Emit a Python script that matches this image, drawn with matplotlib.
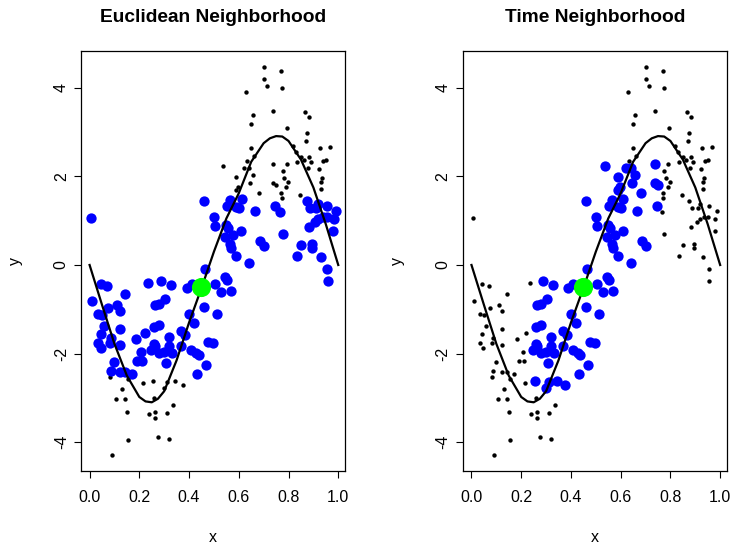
import numpy as np
import matplotlib
matplotlib.use("Agg")
import matplotlib.pyplot as plt

# query point (green)
x0, y0 = 0.45, -0.5

# points blue in both panels
both_x = [0.459, 0.499, 0.506, 0.464, 0.506, 0.288, 0.329, 0.390, 0.410, 0.304,
          0.265, 0.278, 0.459, 0.400, 0.420, 0.261, 0.278, 0.318, 0.368, 0.384,
          0.260, 0.475, 0.495, 0.512, 0.247, 0.265, 0.281, 0.298, 0.321, 0.332,
          0.368, 0.408, 0.428, 0.438, 0.468, 0.432, 0.309,
          0.564, 0.611, 0.553, 0.590, 0.601, 0.665, 0.745,
          0.550, 0.557, 0.544, 0.577, 0.608, 0.564, 0.568, 0.590, 0.685, 0.701, 0.640,
          0.546, 0.554, 0.528, 0.568]
both_y = [1.44, 1.08, 0.88, -0.09, -0.44, -0.36, -0.45, -0.53, -0.42, -0.77,
          -0.90, -0.87, -0.94, -1.11, -1.30, -1.39, -1.36, -1.63, -1.49, -1.58,
          -1.79, -1.73, -1.77, -1.11, -1.92, -1.84, -1.99, -1.96, -1.84, -1.98,
          -1.84, -1.92, -1.98, -2.03, -2.26, -2.45, -2.22,
          1.47, 1.48, 1.34, 1.32, 1.28, 1.22, 1.33,
          0.90, 0.83, 0.64, 0.68, 0.77, 0.47, 0.39, 0.21, 0.54, 0.43, 0.05,
          -0.26, -0.34, -0.62, -0.58]

# points blue only in the Euclidean neighborhood
euc_x = [0.006, 0.044, 0.071, 0.235, 0.142, 0.010, 0.111, 0.076, 0.123, 0.033,
         0.049, 0.057, 0.122, 0.044, 0.221, 0.185, 0.087, 0.033, 0.082, 0.123,
         0.047, 0.207, 0.190, 0.211, 0.100, 0.087, 0.122, 0.141, 0.170,
         0.765, 0.776,
         0.873, 0.888, 0.910, 0.917, 0.954, 0.989, 0.937, 0.953, 0.981, 0.917,
         0.906, 0.881, 0.980, 0.850, 0.894, 0.894, 0.834, 0.930, 0.954, 0.957]
euc_y = [1.05, -0.43, -0.47, -0.41, -0.66, -0.82, -0.90, -0.96, -1.04, -1.11,
         -1.12, -1.38, -1.44, -1.56, -1.54, -1.68, -1.65, -1.77, -1.77, -1.80,
         -1.88, -1.96, -2.16, -2.16, -2.20, -2.39, -2.42, -2.42, -2.46,
         1.19, 0.69,
         1.45, 1.29, 1.29, 1.38, 1.33, 1.22, 1.09, 1.09, 1.03, 1.03,
         0.98, 0.85, 0.77, 0.44, 0.47, 0.39, 0.21, 0.19, -0.09, -0.36]

# points blue only in the time neighborhood
time_x = [0.254, 0.298, 0.310, 0.344, 0.375,
          0.535, 0.622, 0.643, 0.656, 0.589, 0.736, 0.647, 0.736, 0.749, 0.683,
          0.596, 0.589]
time_y = [-2.62, -2.78, -2.65, -2.63, -2.72,
          2.24, 2.18, 2.18, 2.03, 1.99, 2.28, 1.84, 1.86, 1.81, 1.62,
          1.77, 1.69]

# points outside both neighborhoods
rest_x = [0.084, 0.154, 0.215, 0.131, 0.107, 0.141, 0.151, 0.154, 0.090, 0.238,
          0.261, 0.264, 0.264, 0.312, 0.335, 0.274, 0.320,
          0.772, 0.847,
          0.703, 0.770, 0.703, 0.712, 0.774, 0.629, 0.736, 0.656, 0.649, 0.866,
          0.884, 0.794, 0.873, 0.870, 0.649, 0.820, 0.830, 0.926, 0.966, 0.660,
          0.632, 0.792, 0.833, 0.850, 0.861, 0.884, 0.890, 0.877, 0.940, 0.950,
          0.924, 0.776, 0.783, 0.799, 0.791, 0.770, 0.934, 0.930, 0.930]
rest_y = [-2.54, -2.57, -2.67, -2.79, -3.02, -3.02, -3.32, -3.95, -4.30, -3.36,
          -3.01, -3.33, -3.46, -3.34, -3.15, -3.88, -3.93,
          1.52, 1.58,
          4.48, 4.38, 4.21, 4.03, 4.00, 3.90, 3.48, 3.39, 3.18, 3.45,
          3.33, 3.09, 2.99, 2.80, 2.63, 2.69, 2.54, 2.65, 2.67, 2.46,
          2.35, 2.28, 2.33, 2.43, 2.37, 2.44, 2.33, 2.18, 2.35, 2.37,
          2.16, 2.13, 1.97, 1.87, 1.77, 1.62, 1.96, 1.88, 1.71]

# true curve
curve_x = [0.00, 0.05, 0.10, 0.15, 0.20, 0.225, 0.25, 0.275, 0.30, 0.35, 0.40,
           0.45, 0.50, 0.55, 0.60, 0.65, 0.70, 0.725, 0.75, 0.775, 0.80, 0.85,
           0.90, 0.95, 1.00]
curve_y = [0.00, -0.90, -1.78, -2.50, -2.98, -3.08, -3.10, -3.02, -2.85, -2.15,
           -1.30, -0.52, 0.30, 1.05, 1.62, 2.33, 2.75, 2.86, 2.91, 2.90, 2.80,
           2.38, 1.75, 0.92, 0.00]

plt.rcParams['font.family'] = ['Liberation Sans', 'DejaVu Sans']

all_x = np.array(both_x + euc_x + time_x + rest_x + [x0])
all_y = np.array(both_y + euc_y + time_y + rest_y + [y0])


def r_lim(v):
    lo, hi = v.min(), v.max()
    pad = 0.04 * (hi - lo)
    return lo - pad, hi + pad


def panel(ax, title, blue_x, blue_y, black_x, black_y):
    ax.scatter(black_x, black_y, s=10, c='black', linewidths=0, zorder=2)
    ax.scatter(blue_x, blue_y, s=55, c='#0000FF', linewidths=0, zorder=3)
    ax.plot(curve_x, curve_y, color='black', lw=1.6, zorder=4)
    ax.scatter([x0], [y0], s=190, c='#00FF00', linewidths=0, zorder=5)
    ax.set_xlim(r_lim(all_x))
    ax.set_ylim(r_lim(all_y))
    ax.set_xticks([0.0, 0.2, 0.4, 0.6, 0.8, 1.0])
    ax.set_xticklabels(['0.0', '0.2', '0.4', '0.6', '0.8', '1.0'])
    ax.set_yticks([-4, -2, 0, 2, 4])
    ax.set_yticklabels(['-4', '-2', '0', '2', '4'], rotation=90, va='center')
    ax.tick_params(direction='out', length=5, width=0.8, labelsize=11.5)
    ax.tick_params(axis='x', pad=9)
    ax.tick_params(axis='y', pad=4)
    for sp in ax.spines.values():
        sp.set_linewidth(0.9)
    ax.set_title(title, fontsize=13.8, fontweight='bold', pad=21)
    ax.set_xlabel('x', fontsize=11.5, labelpad=18)
    ax.set_ylabel('y', fontsize=11.5, labelpad=22)


fig = plt.figure(figsize=(7.32, 5.44), dpi=100)
ax1 = fig.add_axes([81.3 / 732, 73 / 544, 264 / 732, 420 / 544])
ax2 = fig.add_axes([463.2 / 732, 73 / 544, 264 / 732, 420 / 544])

panel(ax1, 'Euclidean Neighborhood',
      both_x + euc_x, both_y + euc_y,
      time_x + rest_x, time_y + rest_y)
panel(ax2, 'Time Neighborhood',
      both_x + time_x, both_y + time_y,
      euc_x + rest_x, euc_y + rest_y)

fig.savefig('out.png', dpi=100)
